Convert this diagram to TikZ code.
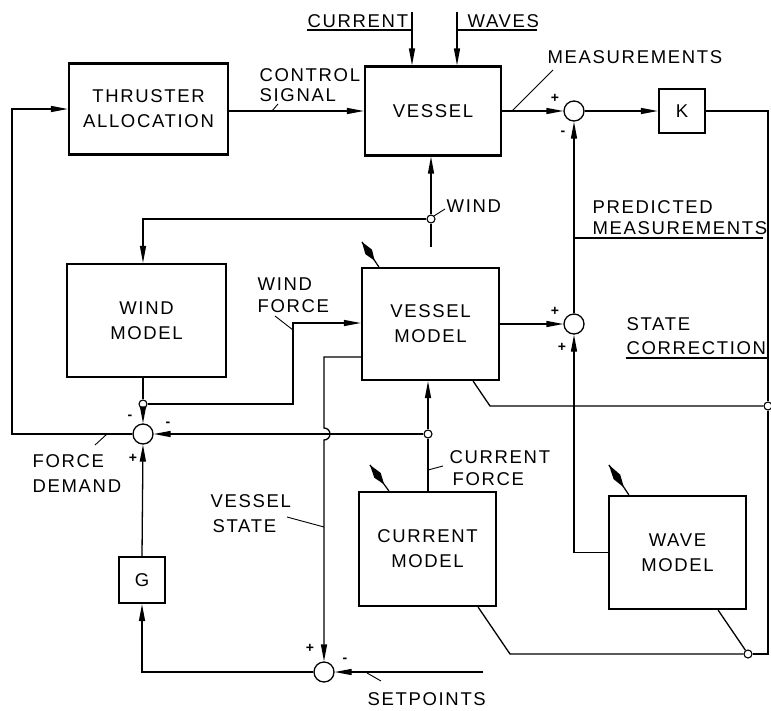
\documentclass[tikz,border=0pt]{standalone}
\usepackage{fontspec}
\setmainfont{Liberation Sans}[LetterSpace=9]
\usetikzlibrary{arrows.meta,calc}
\newcommand\dfont{\fontsize{18.5}{25}\selectfont}
\newcommand\sgnfont{\fontsize{14}{14}\selectfont\bfseries}
% spear-shaped adjustment arrow: from base #1 to tip #2
\newcommand\spearmark[2]{%
  \draw[line width=1.2pt] (#1) -- (#2);
  \fill ($(#1)!0.25!(#2)$) -- ($(#1)!0.6!(#2)!4pt!90:(#2)$) -- (#2)
        -- ($(#1)!0.6!(#2)!4pt!-90:(#2)$) -- cycle;}
\begin{document}
\begin{tikzpicture}[x=1pt,y=-1pt,
  line width=1.3pt,
  >={Triangle[length=17pt,width=6pt]},
  box/.style={draw,line width=2.2pt,rectangle,inner sep=0pt,align=center,font=\dfont},
  sumj/.style={circle,draw,fill=white,minimum size=20,inner sep=0pt,line width=1.3pt},
  dotj/.style={circle,draw,fill=white,minimum size=8,inner sep=0pt,line width=1.1pt},
  lbl/.style={font=\dfont,inner sep=0pt,anchor=base west},
  sgn/.style={font=\sgnfont,inner sep=0pt},
  leader/.style={line width=0.9pt}]
\path[fill=white] (0,0) rectangle (771,710);
\useasboundingbox (0,0) rectangle (771,710);

% blocks
\node[box,minimum width=159,minimum height=91] (thr) at (148.5,109) {THRUSTER\\ALLOCATION};
\node[box,minimum width=136,minimum height=89] (ves) at (433,111) {VESSEL};
\node[box,minimum width=46,minimum height=44] (K) at (682,111) {K};
\node[box,minimum width=159,minimum height=113] (windm) at (146.5,320.5) {WIND\\MODEL};
\node[box,minimum width=137,minimum height=112] (vm) at (430.5,324) {VESSEL\\MODEL};
\node[box,minimum width=137,minimum height=114] (cm) at (427.5,549) {CURRENT\\MODEL};
\node[box,minimum width=137,minimum height=113] (wvm) at (677.5,552.5) {WAVE\\MODEL};
\node[box,minimum width=46,minimum height=46] (G) at (142,580) {G};

% junctions
\node[sumj] (ms) at (574,111) {};
\node[sumj] (sc) at (574,324) {};
\node[sumj] (fd) at (143,434) {};
\node[sumj] (sp) at (324,672) {};
\node[dotj] (wj) at (431,219) {};
\node[dotj] (wf) at (143,404) {};
\node[dotj] (cf) at (428,434) {};
\node[dotj] (rc) at (768,406) {};
\node[dotj] (bc) at (748,654) {};

% free ends and bends
\coordinate (curtop) at (412,12);
\coordinate (wavtop) at (457,12);
\coordinate (windin) at (431,247);
\coordinate (setin) at (483,672);
\coordinate (lft) at (12,434);
\coordinate (wfk) at (293,404);
\coordinate (vsk) at (324,357);

% connectors
\draw[->] (thr.east |- ves.west) -- (ves.west);
\draw[->] (curtop) -- (curtop |- ves.north);
\draw[->] (wavtop) -- (wavtop |- ves.north);
\draw[->] (ves.east) -- (ms.west);
\draw[->] (ms.east) -- (K.west);
\draw (K.east) -- (K.east -| rc) -- (rc.north);
\draw (rc.south) -- (rc |- bc) -- (bc.east);
\draw (bc.west) -- (510,654) -- ($(cm.south east)+(-19,0)$);
\draw (bc) -- ($(wvm.south east)+(-29,0)$);
\draw (rc.west) -- (490,406) -- ($(vm.south east)+(-27,0)$);
\draw[->] (vm.east) -- (sc.west);
\draw[->] (sc.north) -- (ms.south);
\draw[->] (wvm.west) -- (wvm.west -| sc) -- (sc.south);
\draw (windin) -- (wj.south);
\draw[->] (wj.north) -- (wj |- ves.south);
\draw[->] (wj.west) -- (wj -| wf) -- (wf |- windm.north);
\draw (windm.south -| wf) -- (wf.north);
\draw[->] (wf.south) -- (fd.north);
\draw[->] (wf.east) -- (wfk) -- (wfk |- 0,323) -- (vm.west |- 0,323);
\draw[->] (cf.west) -- (fd.east);
\draw[->] (cf.north) -- (cf |- vm.south);
\draw (cf |- cm.north) -- (cf.south);
\draw[->] (fd.west) -- (lft) -- (lft |- thr.west) -- (thr.west);
\draw[->] (sp.west) -- (sp -| G) -- (G.south);
\draw[->] (G.north) -- (fd.south);
\draw[->] (setin) -- (sp.east);
\draw[->] (vm.west |- vsk) -- (vsk) -- (324,428) arc[start angle=-90,end angle=90,radius=6] -- (sp.north);

% adaptive (adjustment) arrows
\coordinate (vmb) at ($(vm.north west)+(18,0)$);
\coordinate (vmt) at ($(vmb)+(-17,-25)$);
\coordinate (cmb) at ($(cm.north west)+(31,0)$);
\coordinate (cmt) at ($(cmb)+(-19,-26)$);
\coordinate (wvb) at ($(wvm.north west)+(21,0)$);
\coordinate (wvt) at ($(wvb)+(-20,-30)$);
\spearmark{vmb}{vmt}
\spearmark{cmb}{cmt}
\spearmark{wvb}{wvt}

% labels
\node[lbl] (lcur) at (307,27) {CURRENT};
\node[lbl] (lwav) at (467,27) {WAVES};
\node[lbl] (lmeas) at (547,63) {MEASUREMENTS};
\node[lbl] (lcon1) at (259,81) {CONTROL};
\node[lbl] (lcon2) at (259,101) {SIGNAL};
\node[lbl] (lwind) at (446,212) {WIND};
\node[lbl] (lpm1) at (592,213) {PREDICTED};
\node[lbl] (lpm2) at (592,234) {MEASUREMENTS};
\node[lbl] (lsc1) at (626,330) {STATE};
\node[lbl] (lsc2) at (626,354) {CORRECTION};
\node[lbl] (lwf1) at (257,290) {WIND};
\node[lbl] (lwf2) at (257,312) {FORCE};
\node[lbl] (lcf1) at (449,463) {CURRENT};
\node[lbl] (lcf2) at (452,485) {FORCE};
\node[lbl] (lfd1) at (32,467) {FORCE};
\node[lbl] (lfd2) at (32,492) {DEMAND};
\node[lbl] (lvs1) at (210,507) {VESSEL};
\node[lbl] (lvs2) at (212,532) {STATE};
\node[lbl] (lsp) at (367,705) {SETPOINTS};

% underlines
\draw (307,30) -- (curtop |- 0,30);
\draw (wavtop |- 0,30) -- (537,30);
\draw (sc |- 0,238) -- (763,238);
\draw (626,358) -- (rc |- 0,358);

% leaders
\draw[leader] (512,111) -- (553,70);
\draw[leader] (272,111) -- (278,104);
\draw[leader] (wj.north east) -- (445,209);
\draw[leader] (275,316) -- (293,330);
\draw[leader] (428,470) -- (443,466);
\draw[leader] (287,517) -- (324,527);
\draw[leader] (95,445) -- (107,434);
\draw[leader] (367,673) -- (381,681);

% signs
\node[sgn] at (555,98) {+};
\node[sgn] at (563,133) {-};
\node[sgn] at (555,311) {+};
\node[sgn] at (562,347) {+};
\node[sgn] at (130,417) {-};
\node[sgn] at (168,424) {-};
\node[sgn] at (133,458) {+};
\node[sgn] at (310,648) {+};
\node[sgn] at (345,660) {-};
\end{tikzpicture}
\end{document}
